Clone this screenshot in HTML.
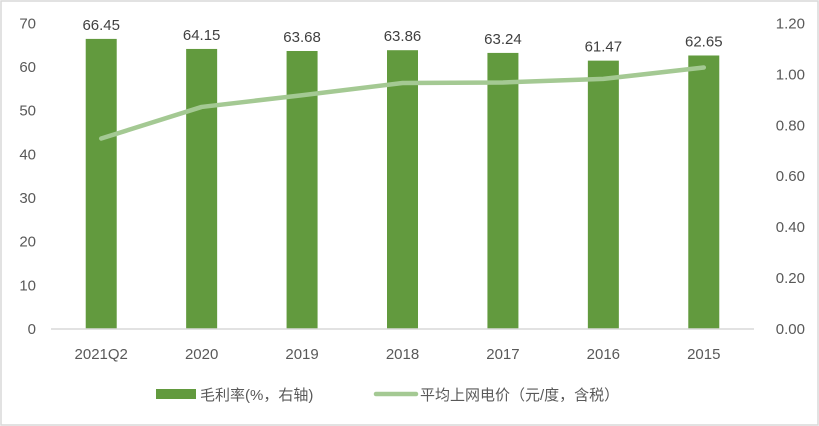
<!DOCTYPE html>
<html><head><meta charset="utf-8"><style>
body{margin:0;background:#fff}
svg{display:block;font-family:"Liberation Sans","Noto Sans CJK SC",sans-serif}
</style></head><body>
<svg id="chart" width="819" height="426" viewBox="0 0 819 426">
<rect x="1" y="1" width="817" height="424" fill="#fff" stroke="#d9d9d9" stroke-width="1.5"/>
<g id="g"></g>
</svg>
<script>
const categories=["2021Q2","2020","2019","2018","2017","2016","2015"];
const marginValues=[66.45,64.15,63.68,63.86,63.24,61.47,62.65];
const priceValues=[0.748,0.872,0.918,0.966,0.968,0.982,1.027];
const leftTicks=[0,10,20,30,40,50,60,70];
const rightTicks=["0.00","0.20","0.40","0.60","0.80","1.00","1.20"];
const NS="http://www.w3.org/2000/svg";
const g=document.getElementById('g');
const X0=51,X1=754,Y0=329,Y1=23.4;
const bw=(X1-X0)/categories.length;
const xc=i=>X0+bw*(i+0.5);
const yL=v=>Y0-(v/70)*(Y0-Y1);
const yR=v=>Y0-(v/1.2)*(Y0-Y1);
function mk(t,a,txt){const e=document.createElementNS(NS,t);for(const k in a)e.setAttribute(k,a[k]);if(txt!==undefined)e.textContent=txt;g.appendChild(e);return e;}
leftTicks.forEach(v=>{
 const t=mk('text',{x:36,y:yL(v)+5,'text-anchor':'end','font-size':15,fill:'#595959'},v);
 
 
});
rightTicks.forEach(v=>{
 const t=mk('text',{x:805,y:yR(parseFloat(v))+5,'text-anchor':'end','font-size':15,fill:'#595959'},v);
 
 
});
categories.forEach((c,i)=>{
 const b=mk('rect',{x:xc(i)-15.5,y:yL(marginValues[i]),width:31,height:Y0-yL(marginValues[i]),fill:'#629A3E'});
 
 
 const l=mk('text',{x:xc(i),y:yL(marginValues[i])-9,'text-anchor':'middle','font-size':15,fill:'#404040'},marginValues[i].toFixed(2));
 
 
 const xl=mk('text',{x:xc(i),y:359,'text-anchor':'middle','font-size':15,fill:'#595959'},c);
 
 
});
const ax=mk('line',{x1:X0,y1:Y0,x2:X1,y2:Y0,stroke:'#d9d9d9','stroke-width':1.5});


const pts=priceValues.map((v,i)=>xc(i)+','+yR(v)).join(' ');
const pl=mk('polyline',{points:pts,fill:'none',stroke:'#A4C993','stroke-width':4.5,'stroke-linecap':'round','stroke-linejoin':'round'});


const lr=mk('rect',{x:156,y:389,width:40,height:10,fill:'#629A3E'});


const lt=mk('text',{x:200,y:400,'font-size':15,fill:'#595959'},'毛利率(%，右轴)');


const ll=mk('line',{x1:376,y1:394,x2:416,y2:394,stroke:'#A4C993','stroke-width':4.5,'stroke-linecap':'round'});


const lt2=mk('text',{x:420,y:400,'font-size':15,fill:'#595959'},'平均上网电价（元/度，含税）');


</script>
</body></html>
